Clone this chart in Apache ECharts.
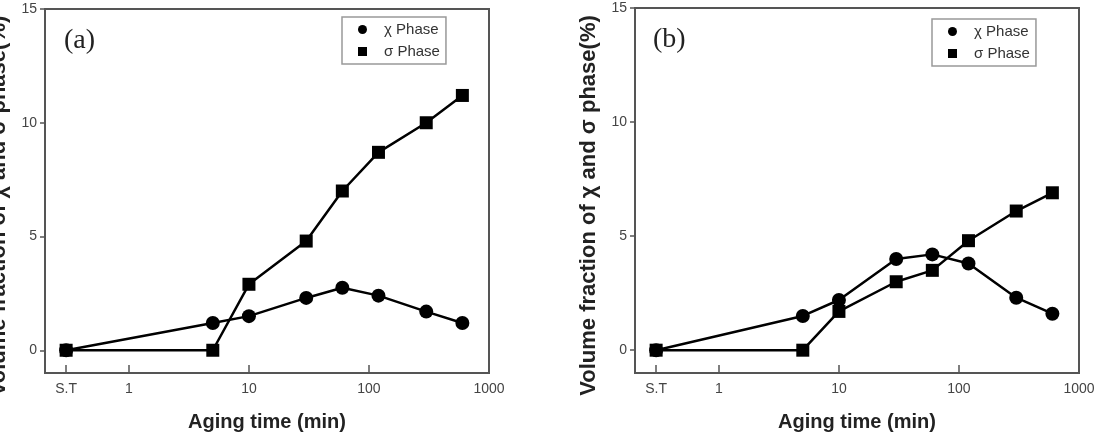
<!DOCTYPE html>
<html>
<head>
<meta charset="utf-8">
<script src="https://cdn.jsdelivr.net/npm/echarts@6/dist/echarts.min.js"></script>
<style>
  html, body { margin: 0; padding: 0; background: #fff; }
  #chart { width: 1100px; height: 437px; }
</style>
</head>
<body>
<div id="chart"></div>
<script>
// aging time (min), 0.3 is where the S.T (solution treated) point sits
var times = [0.3, 5, 10, 30, 60, 120, 300, 600];
// panel (a)
var chiA = [0, 1.2, 1.5, 2.3, 2.75, 2.4, 1.7, 1.2];
var sigmaA = [0, 0, 2.9, 4.8, 7.0, 8.7, 10.0, 11.2];
// panel (b)
var chiB = [0, 1.5, 2.2, 4.0, 4.2, 3.8, 2.3, 1.6];
var sigmaB = [0, 0, 1.7, 3.0, 3.5, 4.8, 6.1, 6.9];
// axis ticks
var xTicks = [0.3, 1, 10, 100, 1000];
var yTicks = [0, 5, 10, 15];

var FONT = '"Liberation Sans", Arial, sans-serif';
var AXIS_COLOR = '#555';

function pairs(ys) {
  return times.map(function (t, i) { return [t, ys[i]]; });
}

function xAxisFor(idx) {
  return {
    gridIndex: idx,
    type: 'log',
    logBase: 10,
    min: 0.2,
    max: 1000,
    name: 'Aging time (min)',
    nameLocation: 'middle',
    nameGap: 39,
    nameTextStyle: { fontFamily: FONT, fontSize: 20, fontWeight: 'bold', color: '#222' },
    axisLine: { show: true, onZero: false, lineStyle: { color: AXIS_COLOR, width: 2 } },
    axisTick: { show: true, inside: true, length: 8, customValues: xTicks, lineStyle: { color: AXIS_COLOR, width: 1.5 } },
    axisLabel: {
      customValues: xTicks,
      margin: 9,
      fontFamily: FONT,
      fontSize: 14,
      color: '#444',
      formatter: function (v) { return v < 0.5 ? 'S.T' : String(Math.round(v)); }
    },
    minorTick: { show: false },
    splitLine: { show: false }
  };
}

function yAxisFor(idx) {
  return {
    gridIndex: idx,
    type: 'value',
    min: -1,
    max: 15,
    name: 'Volume fraction of χ and σ phase(%)',
    nameLocation: 'middle',
    nameGap: 35,
    nameTextStyle: { fontFamily: FONT, fontSize: 22, fontWeight: 'bold', color: '#222', padding: [0, 30, 0, 0] },
    axisLine: { show: true, onZero: false, lineStyle: { color: AXIS_COLOR, width: 2 } },
    axisTick: { show: true, inside: false, length: 5, customValues: yTicks, lineStyle: { color: AXIS_COLOR, width: 1.5 } },
    axisLabel: { customValues: yTicks, margin: 8, fontFamily: FONT, fontSize: 14, color: '#444' },
    splitLine: { show: false }
  };
}

function lineSeries(name, ys, idx, symbol, size) {
  return {
    name: name,
    type: 'line',
    xAxisIndex: idx,
    yAxisIndex: idx,
    data: pairs(ys),
    symbol: symbol,
    symbolSize: size,
    showAllSymbol: true,
    itemStyle: { color: '#000' },
    lineStyle: { color: '#000', width: 2.5 },
    emphasis: { disabled: true },
    z: symbol === 'rect' ? 3 : 4
  };
}

function legendFor(left, top) {
  return {
    left: left,
    top: top,
    orient: 'vertical',
    selectedMode: false,
    data: [{ name: 'χ Phase', icon: 'circle' }, { name: 'σ Phase', icon: 'rect' }],
    itemWidth: 9,
    itemHeight: 9,
    itemGap: 7,
    padding: [5, 6, 5, 16],
    borderColor: '#999',
    borderWidth: 1.5,
    borderRadius: 0,
    textStyle: { fontFamily: FONT, fontSize: 15, color: '#333', padding: [0, 0, 0, 12] }
  };
}

var chart = echarts.init(document.getElementById('chart'), null, { renderer: 'canvas' });
chart.setOption({
  animation: false,
  backgroundColor: '#fff',
  title: [
    { text: '(a)', left: 59, top: 22, textStyle: { fontFamily: '"Liberation Serif", "Times New Roman", serif', fontSize: 28, fontWeight: 'normal', color: '#222' } },
    { text: '(b)', left: 648, top: 21, textStyle: { fontFamily: '"Liberation Serif", "Times New Roman", serif', fontSize: 28, fontWeight: 'normal', color: '#222' } }
  ],
  legend: [legendFor(342, 17), legendFor(932, 19)],
  grid: [
    { left: 45, right: 611, top: 9, bottom: 64, outerBoundsMode: 'none', containLabel: false, show: true, borderColor: AXIS_COLOR, borderWidth: 2, backgroundColor: 'transparent' },
    { left: 635, right: 21, top: 8, bottom: 64, outerBoundsMode: 'none', containLabel: false, show: true, borderColor: AXIS_COLOR, borderWidth: 2, backgroundColor: 'transparent' }
  ],
  xAxis: [xAxisFor(0), xAxisFor(1)],
  yAxis: [yAxisFor(0), yAxisFor(1)],
  series: [
    lineSeries('χ Phase', chiA, 0, 'circle', 14),
    lineSeries('σ Phase', sigmaA, 0, 'rect', 13),
    lineSeries('χ Phase', chiB, 1, 'circle', 14),
    lineSeries('σ Phase', sigmaB, 1, 'rect', 13)
  ]
});
</script>
</body>
</html>
